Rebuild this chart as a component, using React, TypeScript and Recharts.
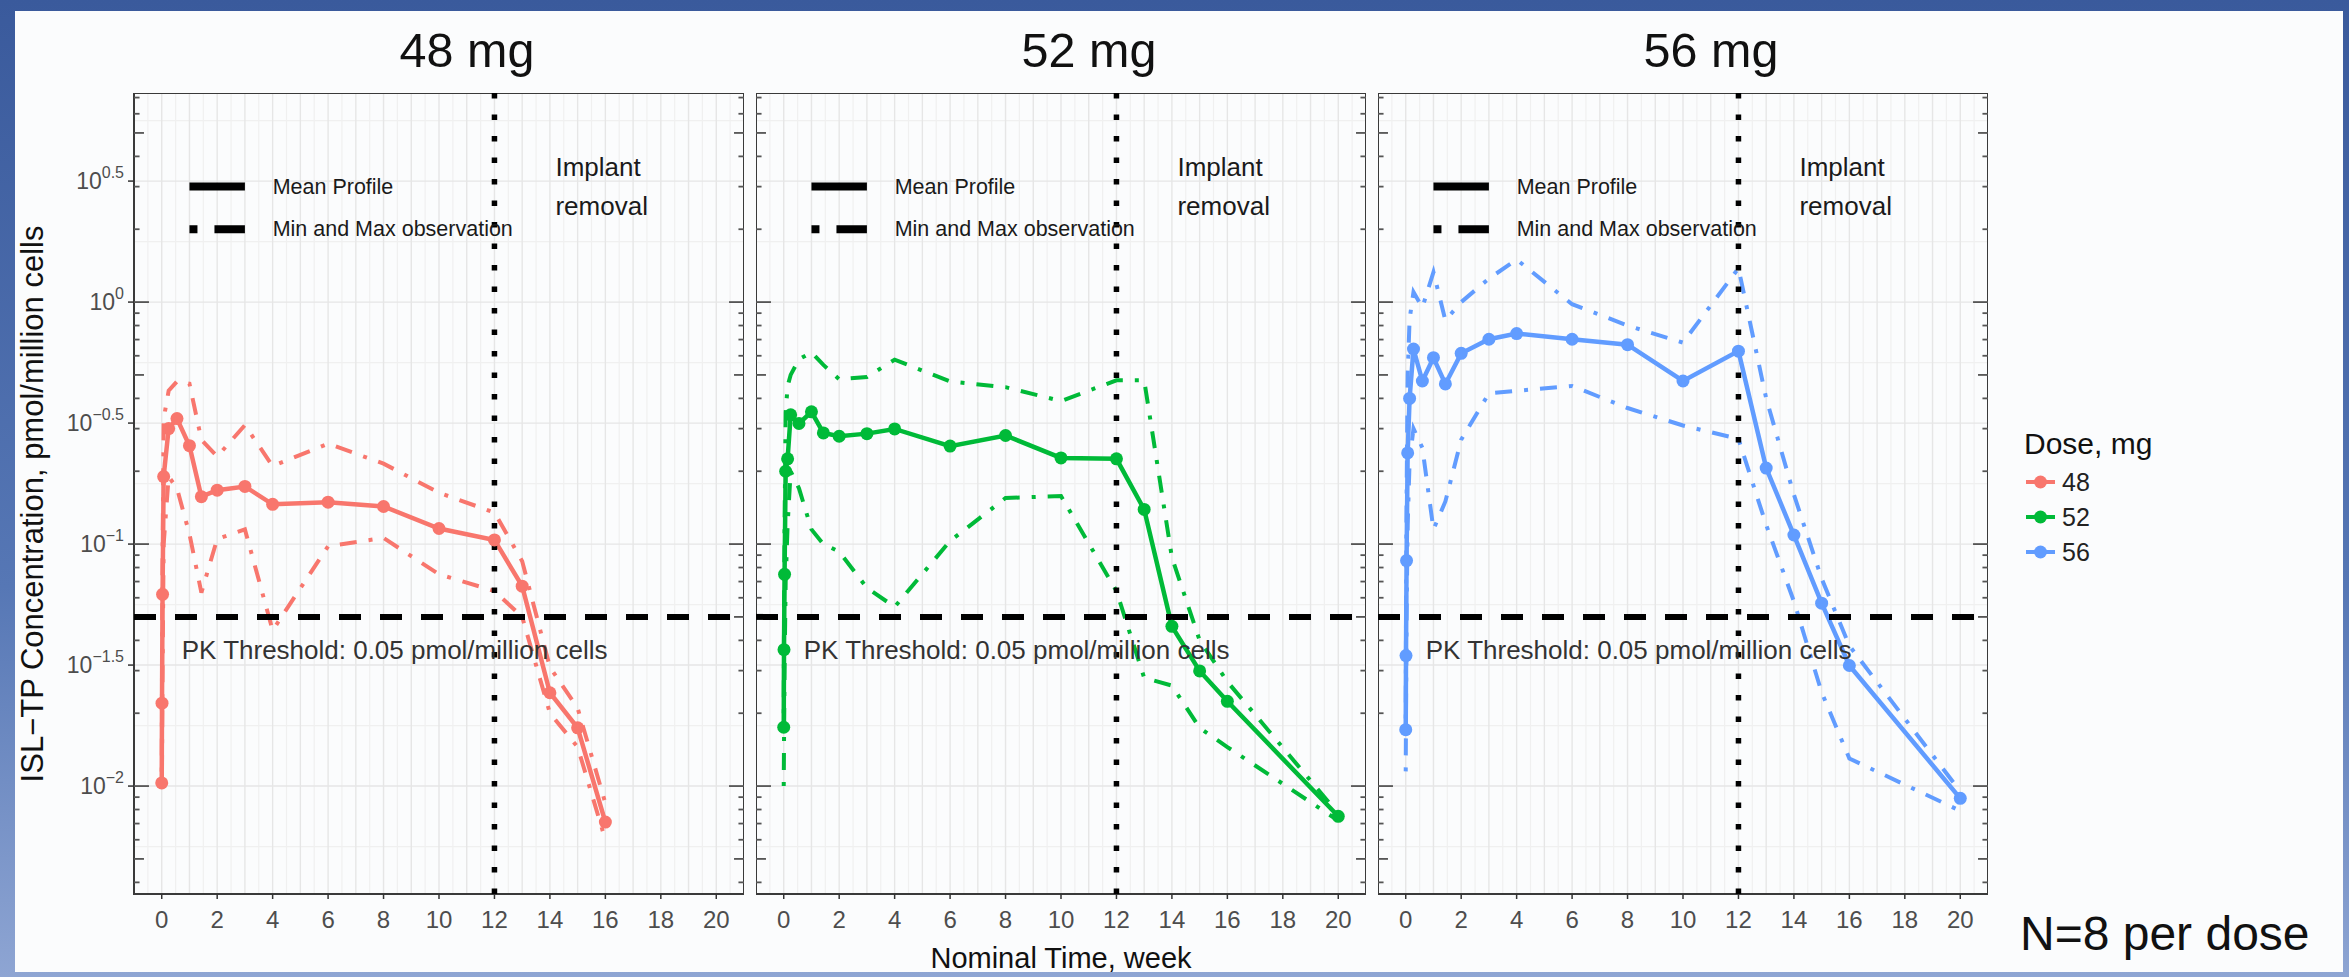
import React from 'react';
import {
  LineChart,
  Line,
  XAxis,
  YAxis,
  CartesianGrid,
  ReferenceLine,
  ReferenceDot,
  ReferenceArea,
} from 'recharts';

const FONT = '"Liberation Sans", Arial, Helvetica, sans-serif';

// ---------------- data ----------------
const panelTitles = ['48 mg', '52 mg', '56 mg'];
const doseLabels = ['48', '52', '56'];
const doseColors = ['#F8766D', '#00BA38', '#619CFF'];

const time48 = [0, 0.01, 0.03, 0.07, 0.25, 0.55, 1, 1.43, 2, 3, 4, 6, 8, 10, 12, 13, 14, 15, 16];
const mean48 = [0.0103, 0.022, 0.062, 0.19, 0.3, 0.33, 0.255, 0.157, 0.167, 0.173, 0.146, 0.149, 0.143, 0.116, 0.104, 0.067, 0.0243, 0.0174, 0.0071];
const max48 = [0.0115, 0.03, 0.09, 0.33, 0.43, 0.47, 0.46, 0.27, 0.23, 0.31, 0.21, 0.26, 0.215, 0.163, 0.135, 0.085, 0.031, 0.021, 0.0085];
const min48 = [0.0098, 0.012, 0.03, 0.1, 0.19, 0.17, 0.11, 0.063, 0.105, 0.115, 0.044, 0.098, 0.106, 0.075, 0.064, 0.05, 0.02, 0.0145, 0.006];

const time52 = [0, 0.01, 0.03, 0.07, 0.14, 0.25, 0.55, 1, 1.43, 2, 3, 4, 6, 8, 10, 12, 13, 14, 15, 16, 20];
const mean52 = [0.0175, 0.0366, 0.075, 0.2, 0.225, 0.342, 0.315, 0.352, 0.288, 0.279, 0.286, 0.299, 0.254, 0.281, 0.227, 0.225, 0.139, 0.0457, 0.0299, 0.0224, 0.0075];
const max52 = [0.02, 0.05, 0.12, 0.35, 0.45, 0.5, 0.58, 0.62, 0.55, 0.48, 0.49, 0.578, 0.47, 0.445, 0.39, 0.475, 0.475, 0.088, 0.04, 0.027, 0.0077];
const min52 = [0.01, 0.015, 0.03, 0.07, 0.12, 0.2, 0.17, 0.115, 0.1, 0.093, 0.066, 0.055, 0.103, 0.155, 0.158, 0.064, 0.028, 0.026, 0.0174, 0.0145, 0.0072];

const time56 = [0, 0.01, 0.03, 0.07, 0.14, 0.28, 0.6, 1, 1.43, 2, 3, 4, 6, 8, 10, 12, 13, 14, 15, 16, 20];
const mean56 = [0.0171, 0.0346, 0.0855, 0.238, 0.4, 0.64, 0.472, 0.589, 0.459, 0.614, 0.702, 0.741, 0.702, 0.667, 0.472, 0.627, 0.206, 0.109, 0.057, 0.0315, 0.0089];
const max56 = [0.019, 0.05, 0.15, 0.5, 0.85, 1.1, 0.95, 1.33, 0.84, 1.0, 1.25, 1.5, 0.98, 0.8, 0.68, 1.38, 0.4, 0.16, 0.072, 0.038, 0.0095];
const min56 = [0.0115, 0.02, 0.05, 0.12, 0.22, 0.3, 0.25, 0.115, 0.15, 0.27, 0.42, 0.43, 0.45, 0.365, 0.309, 0.272, 0.12, 0.058, 0.0244, 0.013, 0.0079];

const doseTimes = [time48, time52, time56];
const doseMeans = [mean48, mean52, mean56];
const doseMaxs = [max48, max52, max56];
const doseMins = [min48, min52, min56];

// axes
const xDomain = [-1, 21];
const xTicks = [0, 2, 4, 6, 8, 10, 12, 14, 16, 18, 20];
const yDomain = [Math.pow(10, -2.446), Math.pow(10, 0.864)];
const yTickExps = ['-2', '-1.5', '-1', '-0.5', '0', '0.5'];
const yTicks = [-2, -1.5, -1, -0.5, 0, 0.5].map((e) => Math.pow(10, e));
const gridXMajor = [0, 1, 2, 3, 4, 5, 6, 7, 8, 9, 10, 11, 12, 13, 14, 15, 16, 17, 18, 19, 20];
const gridXMinor = [-0.5, 0.5, 1.5, 2.5, 3.5, 4.5, 5.5, 6.5, 7.5, 8.5, 9.5, 10.5, 11.5, 12.5, 13.5, 14.5, 15.5, 16.5, 17.5, 18.5, 19.5, 20.5];
const gridYMajor = [-2, -1.5, -1, -0.5, 0, 0.5].map((e) => Math.pow(10, e));
const gridYMinor = [-2.25, -1.75, -1.25, -0.75, -0.25, 0.25, 0.75].map((e) => Math.pow(10, e));
const logTickValues = [
  0.004, 0.005, 0.006, 0.007, 0.008, 0.009,
  0.01, 0.02, 0.03, 0.04, 0.05, 0.06, 0.07, 0.08, 0.09,
  0.1, 0.2, 0.3, 0.4, 0.5, 0.6, 0.7, 0.8, 0.9,
  1, 2, 3, 4, 5, 6, 7,
];

// annotations (data coordinates)
const thresholdValue = 0.05;
const removalWeek = 12;
const thresholdText = 'PK Threshold: 0.05 pmol/million cells';
const thresholdTextPos = { x: 0.72, y: Math.pow(10, -1.475) };
const removalLines = ['Implant', 'removal'];
const removalTextX = 14.2;
const removalTextY = [Math.pow(10, 0.521), Math.pow(10, 0.36)];
const keyLabels = ['Mean Profile', 'Min and Max observation'];
const keyLineX = [1, 3];
const keyTextX = 4;
const keyY = [3, 2];

// ---------------- components ----------------
const YTick = (props: any) => {
  const { x, y, payload } = props;
  const i = yTicks.findIndex((v) => Math.abs(v - payload.value) / v < 1e-6);
  const exp = (yTickExps[i] ?? '').replace('-', '\u2212');
  return (
    <text x={x} y={y + 8} textAnchor="end" fill="#4d4d4d" fontFamily={FONT}>
      <tspan fontSize={23}>10</tspan>
      <tspan fontSize={16} dy={-11}>{exp}</tspan>
    </text>
  );
};

const textShape = (label: string, size: number, anchor: string = 'start', baseline: string = 'auto', color = '#1a1a1a') =>
  (p: any) => (
    <text
      x={p.cx}
      y={p.cy}
      fontSize={size}
      fontFamily={FONT}
      fill={color}
      textAnchor={anchor as any}
      dominantBaseline={baseline as any}
    >
      {label}
    </text>
  );

function logTickLen(v: number) {
  const m = Math.round(v / Math.pow(10, Math.floor(Math.log10(v) + 1e-9)));
  if (m === 1) return 0.54;
  if (m === 5) return 0.36;
  return 0.2;
}

function Panel({ idx, showY }: { idx: number; showY: boolean }) {
  const color = doseColors[idx];
  const rows = doseTimes[idx].map((t, i) => ({
    t,
    mean: doseMeans[idx][i],
    max: doseMaxs[idx][i],
    min: doseMins[idx][i],
  }));
  const plotW = 610;
  const plotH = 801;
  const yW = showY ? 100 : 0;
  return (
    <LineChart width={plotW + yW} height={plotH + 60} data={rows} margin={{ top: 0, right: 0, bottom: 0, left: 0 }}>
      <CartesianGrid horizontalValues={gridYMinor} verticalValues={gridXMinor} stroke="#f0f0f0" strokeWidth={1.2} />
      <CartesianGrid horizontalValues={gridYMajor} verticalValues={gridXMajor} stroke="#e6e6e6" strokeWidth={1.4} />
      <XAxis
        type="number"
        dataKey="t"
        domain={xDomain}
        ticks={xTicks}
        interval={0}
        allowDataOverflow
        height={60}
        axisLine={false}
        tickSize={5}
        tickMargin={12}
        tickLine={{ stroke: '#333', strokeWidth: 1.5 }}
        tick={{ fontSize: 24, fill: '#4d4d4d', fontFamily: FONT }}
      />
      <YAxis
        type="number"
        scale="log"
        domain={yDomain}
        ticks={yTicks}
        interval={0}
        allowDataOverflow
        hide={!showY}
        width={yW}
        axisLine={false}
        tickSize={6}
        tickMargin={4}
        tickLine={{ stroke: '#333', strokeWidth: 1.5 }}
        tick={<YTick />}
      />
      {logTickValues.map((v) => (
        <ReferenceLine
          key={'l' + v}
          segment={[{ x: xDomain[0], y: v }, { x: xDomain[0] + logTickLen(v), y: v }]}
          stroke="#555"
          strokeWidth={1.8}
        />
      ))}
      {logTickValues.map((v) => (
        <ReferenceLine
          key={'r' + v}
          segment={[{ x: xDomain[1] - logTickLen(v), y: v }, { x: xDomain[1], y: v }]}
          stroke="#555"
          strokeWidth={1.8}
        />
      ))}
      <ReferenceArea x1={xDomain[0]} x2={xDomain[1]} y1={yDomain[0]} y2={yDomain[1]} fill="none" stroke="#3a3a3a" strokeWidth={2} fillOpacity={0} />
      <ReferenceLine segment={[{ x: keyLineX[0], y: keyY[0] }, { x: keyLineX[1], y: keyY[0] }]} stroke="#000" strokeWidth={8} />
      <ReferenceLine segment={[{ x: keyLineX[0], y: keyY[1] }, { x: keyLineX[1], y: keyY[1] }]} stroke="#000" strokeWidth={8} strokeDasharray="8 17 31 17" />
      <ReferenceDot x={keyTextX} y={keyY[0]} r={0} shape={textShape(keyLabels[0], 21.5, 'start', 'central')} />
      <ReferenceDot x={keyTextX} y={keyY[1]} r={0} shape={textShape(keyLabels[1], 21.5, 'start', 'central')} />
      <ReferenceDot x={removalTextX} y={removalTextY[0]} r={0} shape={textShape(removalLines[0], 26)} />
      <ReferenceDot x={removalTextX} y={removalTextY[1]} r={0} shape={textShape(removalLines[1], 26)} />
      <ReferenceDot x={thresholdTextPos.x} y={thresholdTextPos.y} r={0} shape={textShape(thresholdText, 26, 'start', 'auto', '#333')} />
      <Line dataKey="max" stroke={color} strokeWidth={4} strokeDasharray="4 12 17 12" dot={false} isAnimationActive={false} />
      <Line dataKey="min" stroke={color} strokeWidth={4} strokeDasharray="4 12 17 12" dot={false} isAnimationActive={false} />
      <Line
        dataKey="mean"
        stroke={color}
        strokeWidth={4.5}
        dot={{ r: 6.5, fill: color, stroke: color, strokeWidth: 0 }}
        isAnimationActive={false}
      />
      <ReferenceLine y={thresholdValue} stroke="#000" strokeWidth={6} strokeDasharray="22 19" />
      <ReferenceLine x={removalWeek} stroke="#000" strokeWidth={5.5} strokeDasharray="5.5 16" />
    </LineChart>
  );
}

const panelLefts = [134, 756, 1378];
const panelTop = 93;
const panelWidth = 610;

export default function App() {
  return (
    <div
      style={{
        position: 'absolute',
        left: 0,
        top: 0,
        width: 2349,
        height: 977,
        overflow: 'hidden',
        background: 'linear-gradient(180deg, #3a5a9c 0%, #5677b5 60%, #8ea5d3 100%)',
        fontFamily: FONT,
      }}
    >
      <div style={{ position: 'absolute', left: 15, top: 11, width: 2328, height: 961, background: '#fbfcfd' }} />
      {panelLefts.map((l, i) => (
        <div key={i} style={{ position: 'absolute', left: i === 0 ? l - 100 : l, top: panelTop }}>
          <Panel idx={i} showY={i === 0} />
        </div>
      ))}
      <svg width={2349} height={977} style={{ position: 'absolute', left: 0, top: 0, pointerEvents: 'none' }}>
        {panelTitles.map((t, i) => (
          <text key={t} x={panelLefts[i] + panelWidth / 2 + 28} y={67} fontSize={48.5} fontFamily={FONT} fill="#111" textAnchor="middle">
            {t}
          </text>
        ))}
        <text
          transform="translate(43,504) rotate(-90)"
          fontSize={31}
          fontFamily={FONT}
          fill="#111"
          textAnchor="middle"
        >
          ISL{'\u2212'}TP Concentration, pmol/million cells
        </text>
        <text x={1061} y={968} fontSize={29} fontFamily={FONT} fill="#111" textAnchor="middle">
          Nominal Time, week
        </text>
        <text x={2020} y={950} fontSize={48} fontFamily={FONT} fill="#111">
          N=8 per dose
        </text>
        <text x={2024} y={454} fontSize={30} fontFamily={FONT} fill="#111">
          Dose, mg
        </text>
        {doseLabels.map((d, i) => (
          <g key={d}>
            <line x1={2026} x2={2055} y1={482 + i * 35} y2={482 + i * 35} stroke={doseColors[i]} strokeWidth={4} />
            <circle cx={2040.5} cy={482 + i * 35} r={6.5} fill={doseColors[i]} />
            <text x={2062} y={482 + i * 35} fontSize={25} fontFamily={FONT} fill="#222" dominantBaseline="central">
              {d}
            </text>
          </g>
        ))}
      </svg>
    </div>
  );
}
